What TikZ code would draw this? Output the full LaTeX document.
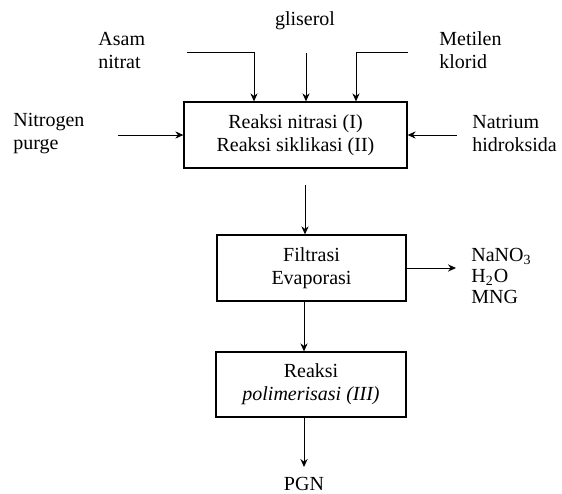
\documentclass[tikz,border=0pt]{standalone}
\usepackage{fontspec}
\setmainfont{Liberation Serif}
\usetikzlibrary{arrows.meta}
\tikzset{
  arr/.style={line width=0.5pt,-{Stealth[length=4pt,width=3.6pt]}},
  procbox/.style={draw,line width=0.65pt,align=center,inner sep=0pt,font=\fontsize{10}{11.5}\selectfont},
  lbl/.style={inner sep=0pt,align=left,font=\fontsize{10}{11.5}\selectfont}
}
\begin{document}
\begin{tikzpicture}[x=0.5pt,y=-0.5pt]
\useasboundingbox (0,0) rectangle (562,493);
% boxes
\node[procbox,minimum width=111.5pt,minimum height=33pt] (b1) at (295.5,135) {Reaksi nitrasi (I)\\Reaksi siklikasi (II)};
\node[procbox,minimum width=94.5pt,minimum height=33pt] (b2) at (311.5,268) {Filtrasi\\Evaporasi};
\node[procbox,minimum width=95pt,minimum height=32.5pt] (b3) at (311,384.5) {Reaksi\\\textit{polimerisasi (III)}};
% labels
\node[lbl] (gli) at (305,21) {gliserol};
\node[lbl,anchor=west] (asam) at (98,50.5) {Asam\\nitrat};
\node[lbl,anchor=west] (met) at (439,50.5) {Metilen\\klorid};
\node[lbl,anchor=west] (nit) at (13,133.5) {Nitrogen\\purge};
\node[lbl,anchor=west] (nat) at (472,133.5) {Natrium\\hidroksida};
\node[lbl,anchor=west,font=\fontsize{10}{10.5}\selectfont] (out) at (471,276) {NaNO\textsubscript{3}\\H\textsubscript{2}O\\MNG};
\node[lbl] (pgn) at (304,484) {PGN};
% coordinates of free ends
\coordinate (a0) at (187,52);
\coordinate (a1) at (254,52);
\coordinate (g0) at (306,53);
\coordinate (m0) at (408,52);
\coordinate (m1) at (356,52);
\coordinate (n0) at (118,135);
\coordinate (s0) at (457,135);
\coordinate (c1) at (305,185);
\coordinate (o1) at (456,268);
\coordinate (p1) at (304,467);
% connectors
\draw[arr] (a0) -- (a1) -- (a1 |- b1.north);
\draw[arr] (g0) -- (g0 |- b1.north);
\draw[arr] (m0) -- (m1) -- (m1 |- b1.north);
\draw[arr] (n0) -- (n0 -| b1.west);
\draw[arr] (s0) -- (s0 -| b1.east);
\draw[arr] (c1) -- (c1 |- b2.north);
\draw[arr] (b2.east |- o1) -- (o1);
\draw[arr] (b2.south -| p1) -- (b3.north -| p1);
\draw[arr] (b3.south -| p1) -- (p1);
\end{tikzpicture}
\end{document}
